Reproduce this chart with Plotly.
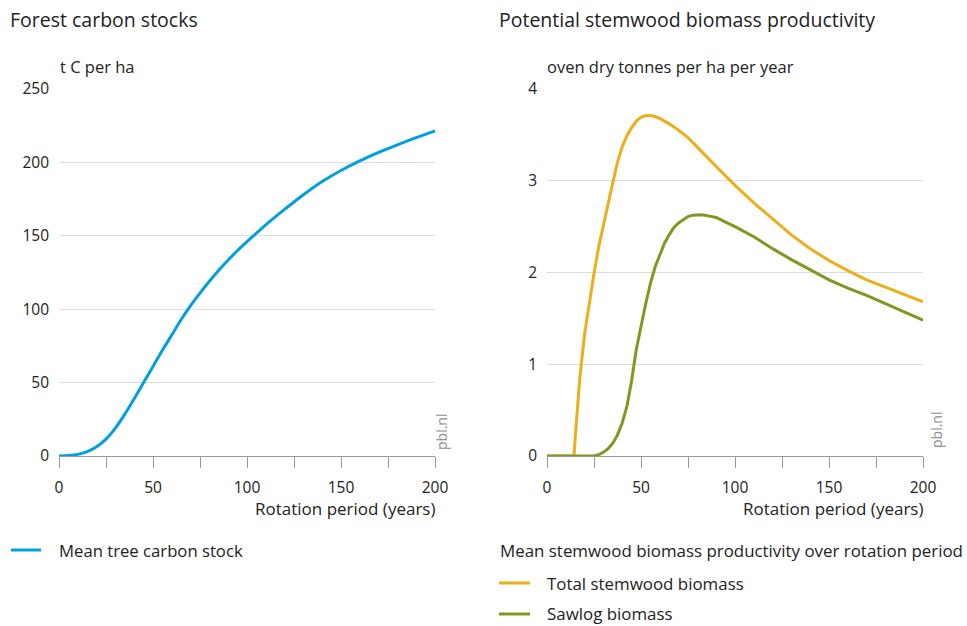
import plotly.graph_objects as go

# ---- data ----
carbon_years = [0, 5, 10, 15, 20, 25, 30, 35, 40, 45, 50, 55, 60, 65, 70, 75, 80, 85, 90, 95,
                100, 110, 120, 130, 140, 150, 160, 170, 180, 190, 200]
carbon_stock = [0, 0.3, 1.1, 3, 6.3, 11.5, 19, 28.5, 39, 50, 61, 72, 82.5, 93, 102.5, 111,
                119, 126.5, 133.5, 140, 146, 157.5, 168, 178, 187, 194.5, 201, 206.8, 212,
                216.9, 221.5]

total_years = [0, 5, 10, 14.4, 15, 17.5, 20, 22.5, 25, 27.5, 30, 32.5, 35, 37.5, 40, 42.5, 45,
               47.5, 50, 52.5, 55, 57.5, 60, 65, 70, 75, 80, 85, 90, 95, 100, 110, 120, 130,
               140, 150, 160, 170, 180, 190, 200]
total_biomass = [0, 0, 0, 0, 0.2, 0.86, 1.33, 1.68, 1.99, 2.28, 2.52, 2.76, 2.98, 3.20, 3.37,
                 3.49, 3.58, 3.65, 3.69, 3.71, 3.71, 3.70, 3.68, 3.62, 3.55, 3.47, 3.37, 3.26,
                 3.155, 3.05, 2.95, 2.76, 2.58, 2.41, 2.26, 2.13, 2.02, 1.92, 1.84, 1.76, 1.68]

sawlog_years = [0, 5, 10, 15, 20, 25, 27.5, 30, 32.5, 35, 37.5, 40, 42.5, 45, 47.5, 50, 52.5,
                55, 57.5, 60, 62.5, 65, 67.5, 70, 72.5, 75, 77.5, 80, 82.5, 85, 90, 95, 100,
                110, 120, 130, 140, 150, 160, 170, 180, 190, 200]
sawlog_biomass = [0, 0, 0, 0, 0, 0, 0.015, 0.04, 0.08, 0.14, 0.23, 0.36, 0.54, 0.82, 1.16,
                  1.42, 1.66, 1.88, 2.06, 2.19, 2.32, 2.41, 2.49, 2.54, 2.58, 2.61, 2.625,
                  2.63, 2.63, 2.62, 2.60, 2.55, 2.50, 2.39, 2.26, 2.14, 2.03, 1.92, 1.83,
                  1.75, 1.66, 1.57, 1.48]

x_ticks = [0, 50, 100, 150, 200]
left_y_ticks = [0, 50, 100, 150, 200, 250]
right_y_ticks = [0, 1, 2, 3, 4]

BLUE = "#00a0de"
ORANGE = "#edae1c"
GREEN = "#86951f"
FONT = "Open Sans"
TXT = "#222222"
GRID = "#dddddd"
AXIS = "#9a9a9a"

W, H = 967, 626


def px(x):
    return x / W


def py(y):
    return 1 - y / H


fig = go.Figure()
fig.add_trace(go.Scatter(x=carbon_years, y=carbon_stock, mode="lines",
                         line=dict(color=BLUE, width=3, shape="spline", smoothing=0.8),
                         xaxis="x", yaxis="y", showlegend=False, hoverinfo="skip"))
fig.add_trace(go.Scatter(x=total_years, y=total_biomass, mode="lines",
                         line=dict(color=ORANGE, width=3),
                         xaxis="x2", yaxis="y2", showlegend=False, hoverinfo="skip"))
fig.add_trace(go.Scatter(x=sawlog_years, y=sawlog_biomass, mode="lines",
                         line=dict(color=GREEN, width=3),
                         xaxis="x2", yaxis="y2", showlegend=False, hoverinfo="skip"))

ydom = [py(456), py(89)]

xaxis_common = dict(range=[0, 200], tickvals=x_ticks, ticks="outside", ticklen=11,
                    tickcolor=AXIS, tickwidth=1, showline=True, linecolor=AXIS, linewidth=1,
                    showgrid=False, zeroline=False, ticklabelstandoff=6, automargin=False,
                    tickfont=dict(family=FONT, size=15.5, color=TXT),
                    minor=dict(dtick=25, tick0=0, ticks="outside", ticklen=11,
                               tickcolor=AXIS, tickwidth=1, showgrid=False))
yaxis_common = dict(showgrid=True, gridcolor=GRID, gridwidth=1, zeroline=False,
                    showline=False, ticks="", ticklabelstandoff=9, automargin=False,
                    tickfont=dict(family=FONT, size=15.5, color=TXT))

fig.update_layout(
    width=W, height=H, autosize=False,
    margin=dict(l=0, r=0, t=0, b=0, pad=0, autoexpand=False),
    paper_bgcolor="white", plot_bgcolor="white",
    font=dict(family=FONT, color=TXT),
    xaxis=dict(domain=[px(59), px(435)], anchor="y", **xaxis_common),
    yaxis=dict(domain=ydom, anchor="x", range=[0, 250], tickvals=left_y_ticks, **yaxis_common),
    xaxis2=dict(domain=[px(547), px(923)], anchor="y2", **xaxis_common),
    yaxis2=dict(domain=ydom, anchor="x2", range=[0, 4], tickvals=right_y_ticks, **yaxis_common),
)

ann = []


def text(x, y, s, size=17, xanchor="left", color=TXT, angle=0, yanchor="middle"):
    ann.append(dict(x=px(x), y=py(y), xref="paper", yref="paper", text=s, showarrow=False,
                    xanchor=xanchor, yanchor=yanchor, textangle=angle,
                    font=dict(family=FONT, size=size, color=color)))


text(8, 20, "Forest carbon stocks", size=19.5)
text(497, 20, "Potential stemwood biomass productivity", size=19.5)
text(58, 66, "t C per ha", size=16.5)
text(545, 66, "oven dry tonnes per ha per year", size=16.5)
text(437, 508, "Rotation period (years)", size=17, xanchor="right")
text(925, 508, "Rotation period (years)", size=17, xanchor="right")
text(441, 432, "pbl.nl", size=14, color="#8c8c8c", angle=-90, xanchor="center")
text(936, 430, "pbl.nl", size=14, color="#8c8c8c", angle=-90, xanchor="center")
text(57, 550, "Mean tree carbon stock", size=16.7)
text(498, 550, "Mean stemwood biomass productivity over rotation period", size=16.9)
text(545, 583, "Total stemwood biomass", size=16.9)
text(545, 613, "Sawlog biomass", size=16.9)
fig.update_layout(annotations=ann)

shapes = []
for (x0, x1, y, c) in [(11, 41, 550, BLUE), (499, 530, 583, ORANGE), (499, 530, 614, GREEN)]:
    shapes.append(dict(type="line", xref="paper", yref="paper", x0=px(x0), x1=px(x1),
                       y0=py(y), y1=py(y), line=dict(color=c, width=3)))
fig.update_layout(shapes=shapes)

post = ("document.body.style.margin='0';document.body.style.padding='0';"
        "document.body.style.overflow='hidden';"
        "document.documentElement.style.overflow='hidden';")

fig.write_html("out.html", post_script=post, config={"displayModeBar": False})
